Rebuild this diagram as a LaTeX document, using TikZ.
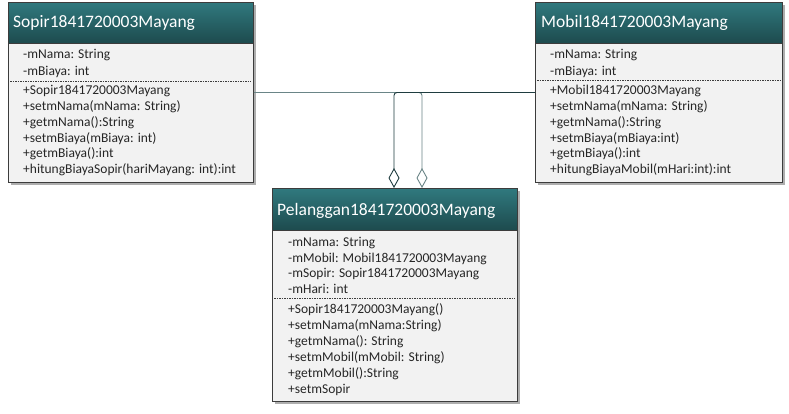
\documentclass[tikz,border=0pt]{standalone}
\usepackage{fontspec}
\setmainfont{Carlito}
\usetikzlibrary{arrows.meta,shadows}
\definecolor{hdtop}{HTML}{30797E}
\definecolor{hdbot}{HTML}{1D4A4D}
\definecolor{bodyfill}{HTML}{F2F2F2}
\definecolor{edgec}{HTML}{3C3C3C}
\definecolor{lnA}{HTML}{6A8587}
\definecolor{lnB}{HTML}{1F3D40}
\definecolor{txtc}{HTML}{262626}
\begin{document}
\begin{tikzpicture}[x=1pt,y=-1pt,
  bodybox/.style={draw=edgec, line width=0.9pt, fill=bodyfill, anchor=north west, inner sep=0pt,
    drop shadow={shadow xshift=2.5pt, shadow yshift=-2.5pt, opacity=0.45, fill=black!70}},
  headbox/.style={draw=edgec, line width=0.9pt, top color=hdtop, bottom color=hdbot, anchor=north west, inner sep=0pt},
  headtxt/.style={anchor=base west, inner sep=0pt, text=white, font=\fontsize{17.5}{20}\selectfont},
  txt/.style={anchor=base west, inner sep=0pt, text=txtc, font=\fontsize{13.5}{16}\selectfont},
  sepline/.style={draw=edgec, line width=0.8pt, dash pattern=on 1.6pt off 0.9pt},
  aggr/.style={line width=0.9pt, rounded corners=3pt, -{Diamond[fill=white, length=20pt, width=11pt]}}]
\useasboundingbox (0,0) rectangle (789,413);
\fill[white] (0,0) rectangle (789,413);

% ---- Sopir ----
\node[bodybox, minimum width=245pt, minimum height=180pt] (sopir) at (8,2) {};
\node[headbox, minimum width=245pt, minimum height=41pt] (sopirh) at (8,2) {};
\node[headtxt] (sopirt) at (13,27.5) {Sopir1841720003Mayang};
\draw[sepline] (10,81) -- (251,81);
\foreach \t [count=\i] in {{-mNama: String},{-mBiaya: int}}
  \node[txt] (sa\i) at (23,{58.5+16.5*(\i-1)}) {\t};
\foreach \t [count=\i] in {{+Sopir1841720003Mayang},{+setmNama(mNama: String)},{+getmNama():String},{+setmBiaya(mBiaya: int)},{+getmBiaya():int},{+hitungBiayaSopir(hariMayang: int):int}}
  \node[txt] (sm\i) at (23,{94.5+15.85*(\i-1)}) {\t};

% ---- Mobil ----
\node[bodybox, minimum width=247pt, minimum height=180pt] (mobil) at (535,2) {};
\node[headbox, minimum width=247pt, minimum height=41pt] (mobilh) at (535,2) {};
\node[headtxt] (mobilt) at (541,27.5) {Mobil1841720003Mayang};
\draw[sepline] (537,80.5) -- (780,80.5);
\foreach \t [count=\i] in {{-mNama: String},{-mBiaya: int}}
  \node[txt] (ma\i) at (550,{58.5+16.5*(\i-1)}) {\t};
\foreach \t [count=\i] in {{+Mobil1841720003Mayang},{+setmNama(mNama: String)},{+getmNama():String},{+setmBiaya(mBiaya:int)},{+getmBiaya():int},{+hitungBiayaMobil(mHari:int):int}}
  \node[txt] (mm\i) at (550,{94.5+15.85*(\i-1)}) {\t};

% ---- connectors ----
\coordinate (d1) at (394,188);
\coordinate (d2) at (422,188);
\draw[aggr, draw=lnA] (sopir.east) -| (d2);
\draw[aggr, draw=lnB] (mobil.west) -| (d1);

% ---- Pelanggan ----
\node[bodybox, minimum width=245pt, minimum height=213pt] (pel) at (272,188) {};
\node[headbox, minimum width=245pt, minimum height=42pt] (pelh) at (272,188) {};
\node[headtxt] (pelt) at (277,215.5) {Pelanggan1841720003Mayang};
\draw[sepline] (274,298.5) -- (515,298.5);
\foreach \t [count=\i] in {{-mNama: String},{-mMobil: Mobil1841720003Mayang},{-mSopir: Sopir1841720003Mayang},{-mHari: int}}
  \node[txt] (pa\i) at (288,{246.5+15.7*(\i-1)}) {\t};
\foreach \t [count=\i] in {{+Sopir1841720003Mayang()},{+setmNama(mNama:String)},{+getmNama(): String},{+setmMobil(mMobil: String)},{+getmMobil():String},{+setmSopir}}
  \node[txt] (pm\i) at (288,{313.5+16*(\i-1)}) {\t};
\end{tikzpicture}
\end{document}
